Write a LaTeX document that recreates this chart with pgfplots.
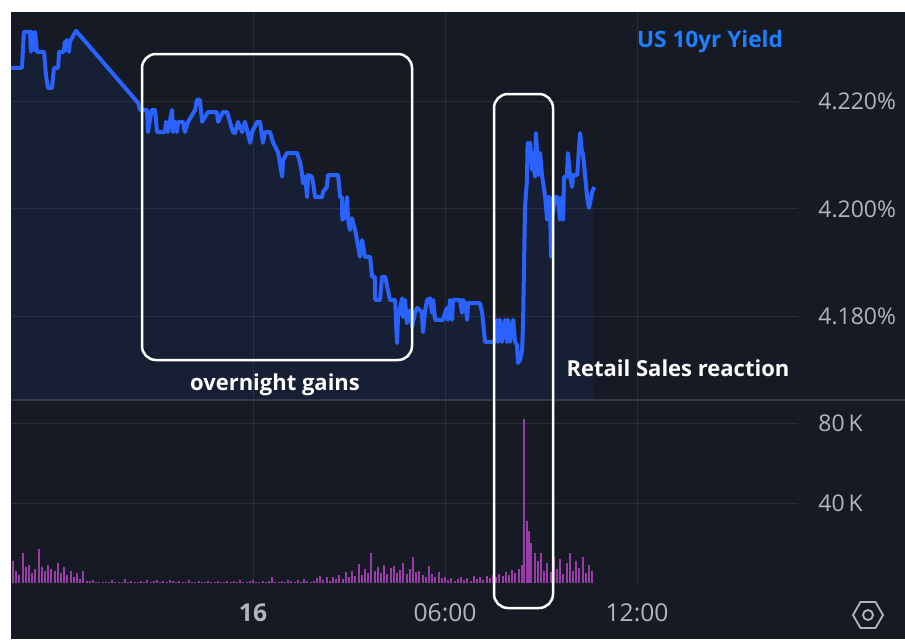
\documentclass[border=0pt]{standalone}
\usepackage{pgfplots}
\pgfplotsset{compat=1.18}
\usepackage{pgfplotstable}
\usepackage{fontspec}
\setmainfont{Open Sans}
\usetikzlibrary{shapes.geometric}
\definecolor{bg}{RGB}{22,26,37}
\definecolor{linecol}{RGB}{41,98,255}
\definecolor{gridcol}{RGB}{40,44,56}
\definecolor{sepcol}{RGB}{54,58,69}
\definecolor{labcol}{RGB}{178,181,190}
\definecolor{volcol}{RGB}{150,62,165}
\definecolor{titlecol}{RGB}{30,128,255}

\pgfplotstableread{
h y
-7.56 4.2262
-7.22 4.2262
-7.16 4.2329
-6.97 4.2329
-6.94 4.2292
-6.91 4.2329
-6.84 4.2296
-6.81 4.2329
-6.75 4.2292
-6.53 4.2292
-6.47 4.2249
-6.41 4.2225
-6.28 4.2225
-6.22 4.2262
-6.09 4.2262
-6.06 4.2292
-5.91 4.2292
-5.88 4.2311
-5.84 4.2296
-5.81 4.2314
-5.75 4.2292
-5.72 4.2311
-5.53 4.2331
-3.59 4.2197
-3.53 4.2184
-3.31 4.2184
-3.28 4.2143
-3.22 4.2166
-3.16 4.2184
-3.06 4.2184
-3.00 4.2143
-2.75 4.2143
-2.72 4.2162
-2.66 4.2143
-2.53 4.2184
-2.50 4.2143
-2.44 4.2162
-2.38 4.2143
-2.34 4.2162
-2.19 4.2162
-2.13 4.2143
-2.03 4.2162
-1.81 4.2184
-1.75 4.2203
-1.66 4.2203
-1.59 4.2162
-1.50 4.2171
-1.41 4.2180
-1.13 4.2180
-1.09 4.2162
-0.94 4.2180
-0.81 4.2180
-0.72 4.2162
-0.63 4.2143
-0.56 4.2141
-0.47 4.2162
-0.34 4.2143
-0.25 4.2162
-0.09 4.2123
-0.03 4.2143
0.13 4.2162
0.22 4.2162
0.31 4.2123
0.38 4.2143
0.53 4.2143
0.63 4.2123
0.78 4.2106
0.91 4.2060
0.94 4.2091
1.06 4.2104
1.38 4.2104
1.47 4.2086
1.53 4.2067
1.56 4.2048
1.63 4.2060
1.69 4.2022
1.72 4.2063
1.84 4.2060
1.88 4.2048
1.94 4.2022
2.16 4.2022
2.19 4.2032
2.31 4.2041
2.34 4.2063
2.66 4.2063
2.72 4.2022
2.78 4.2022
2.79 4.1980
2.88 4.1985
2.94 4.2022
2.97 4.1980
3.03 4.1961
3.09 4.1983
3.19 4.1961
3.25 4.1942
3.34 4.1911
3.41 4.1942
3.50 4.1911
3.66 4.1911
3.72 4.1874
3.81 4.1874
3.82 4.1831
3.97 4.1831
4.03 4.1874
4.13 4.1874
4.28 4.1831
4.44 4.1831
4.50 4.1751
4.53 4.1799
4.66 4.1834
4.69 4.1799
4.75 4.1831
4.81 4.1788
4.84 4.1799
4.91 4.1812
4.97 4.1781
5.06 4.1807
5.13 4.1816
5.22 4.1812
5.28 4.1807
5.31 4.1771
5.38 4.1812
5.44 4.1831
5.53 4.1834
5.59 4.1807
5.63 4.1831
5.69 4.1794
5.94 4.1794
6.00 4.1807
6.06 4.1816
6.09 4.1794
6.16 4.1831
6.22 4.1794
6.25 4.1831
6.47 4.1831
6.53 4.1807
6.56 4.1831
6.63 4.1825
6.69 4.1794
6.72 4.1825
7.09 4.1825
7.16 4.1807
7.25 4.1753
7.56 4.1753
7.63 4.1794
7.66 4.1753
7.72 4.1794
7.78 4.1753
7.88 4.1794
7.94 4.1753
7.97 4.1794
8.03 4.1753
8.13 4.1794
8.19 4.1753
8.25 4.1747
8.28 4.1714
8.34 4.1719
8.41 4.1738
8.44 4.1794
8.50 4.2004
8.56 4.2054
8.58 4.2123
8.59 4.2110
8.66 4.2123
8.72 4.2073
8.75 4.2104
8.81 4.2060
8.84 4.2141
8.88 4.2104
8.91 4.2063
8.97 4.2104
9.03 4.2063
9.13 4.2022
9.19 4.1980
9.22 4.2022
9.28 4.2022
9.31 4.1911
9.34 4.1980
9.44 4.2022
9.53 4.2022
9.59 4.1980
9.66 4.2022
9.69 4.1980
9.72 4.2060
9.81 4.2060
9.84 4.2104
9.91 4.2060
9.97 4.2041
10.00 4.2063
10.13 4.2063
10.22 4.2141
10.28 4.2104
10.31 4.2104
10.38 4.2060
10.44 4.2022
10.50 4.2002
10.59 4.2030
10.66 4.2041
}\yielddata

\pgfplotstableread{
h v
-7.5 11
-7.4 6
-7.3 4
-7.2 15
-7.1 8
-7.0 9
-6.9 5
-6.8 7
-6.7 17
-6.6 8
-6.5 6
-6.4 9
-6.3 7
-6.2 6
-6.1 10
-6.0 5
-5.9 8
-5.8 4
-5.7 6
-5.6 3
-5.5 5
-5.4 2
-5.3 6
-5.2 1
-5.1 1
-5.0 1.5
-4.9 0.5
-4.8 0.3
-4.7 0.6
-4.6 0.4
-4.5 0.3
-4.4 1.5
-4.3 0.5
-4.2 0.4
-4.1 0.3
-4.0 1.8
-3.9 0.6
-3.8 1.2
-3.7 0.5
-3.6 0.3
-3.5 1.0
-3.4 0.6
-3.3 1.6
-3.2 0.5
-3.1 0.8
-3.0 1.4
-2.9 0.6
-2.8 1.0
-2.7 0.4
-2.6 1.7
-2.5 0.8
-2.4 0.5
-2.3 1.1
-2.2 0.4
-2.1 0.7
-2.0 1.3
-1.9 0.5
-1.8 0.3
-1.7 0.8
-1.6 0.5
-1.5 0.4
-1.4 1.0
-1.3 0.6
-1.2 0.3
-1.1 0.9
-1.0 0.4
-0.9 0.7
-0.8 1.2
-0.7 0.5
-0.6 0.8
-0.5 0.4
-0.4 1.4
-0.3 0.6
-0.2 0.5
-0.1 0.9
0.0 1.6
0.1 0.7
0.2 0.4
0.3 1.1
0.4 0.5
0.5 0.9
0.6 3.0
0.7 0.5
0.8 0.7
0.9 1.2
1.0 0.4
1.1 1.5
1.2 0.8
1.3 0.6
1.4 1.3
1.5 0.5
1.6 1.8
1.7 0.9
1.8 0.6
1.9 1.0
2.0 2.5
2.1 3.5
2.2 1.5
2.3 2.8
2.4 1.2
2.5 3.0
2.6 1.8
2.7 4.0
2.8 2.2
2.9 5.5
3.0 3.0
3.1 6.0
3.2 3.5
3.3 9.5
3.4 4.0
3.5 7.0
3.6 5.0
3.7 15
3.8 6.0
3.9 8.0
4.0 5.0
4.1 9.0
4.2 4.5
4.3 7.5
4.4 8.5
4.5 5.0
4.6 6.5
4.7 10
4.8 4.5
4.9 7.0
5.0 13
5.1 5.5
5.2 6.0
5.3 4.0
5.4 3.0
5.5 8.5
5.6 4.5
5.7 3.0
5.8 5.5
5.9 2.5
6.0 3.0
6.1 1.5
6.2 2.5
6.3 1.0
6.4 2.0
6.5 3.0
6.6 1.5
6.7 2.5
6.8 1.2
6.9 3.5
7.0 2.0
7.1 2.8
7.2 1.5
7.3 3.5
7.4 2.5
7.5 4.0
7.6 3.0
7.7 4.5
7.8 3.5
7.9 5.5
8.0 4.0
8.1 6.5
8.2 5.0
8.3 7.0
8.4 9.0
8.47 82
8.55 31
8.62 26
8.7 20
8.8 15
8.9 11
9.0 15
9.1 6
9.2 10
9.3 5.5
9.4 13
9.5 7
9.6 12
9.7 4.5
9.8 10
9.9 15
10.0 6
10.1 11
10.2 7.5
10.3 13
10.4 5
10.5 9
10.6 6
}\voldata

\begin{document}
\begin{tikzpicture}
\useasboundingbox (0,0) rectangle (452.5pt,-319.5pt);
\fill[white] (0,0) rectangle (452.5pt,-319.5pt);
\fill[bg] (5.5pt,-6pt) rectangle (452.5pt,-319.5pt);

\begin{axis}[
  at={(5.5pt,-200pt)}, anchor=south west,
  scale only axis, width=393.5pt, height=194pt,
  xmin=-7.5625, xmax=17.03, ymin=4.1645, ymax=4.2366,
  axis line style={draw=none}, tick style={draw=none},
  xtick={0,6,12}, xticklabels={},
  ytick={4.18,4.20,4.22}, yticklabels={4.180\%,4.200\%,4.220\%},
  yticklabel pos=right,
  yticklabel style={anchor=west, inner sep=0pt, xshift=10pt, font=\fontsize{11.5}{12}\selectfont, text=labcol},
  grid=major, grid style={gridcol, line width=0.5pt},
]
\addplot[fill=linecol, fill opacity=0.07, draw=none] table[x=h,y=y]{\yielddata}
  -- (axis cs:10.66,4.1645) -- (axis cs:-7.56,4.1645) -- cycle;
\addplot[linecol, line width=2pt, line join=round] table[x=h,y=y]{\yielddata};
\end{axis}

\begin{axis}[
  at={(5.5pt,-291.5pt)}, anchor=south west,
  scale only axis, width=393.5pt, height=91.5pt,
  xmin=-7.5625, xmax=17.03, ymin=0, ymax=91.5,
  axis line style={draw=none}, tick style={draw=none},
  xtick={0,6,12}, xticklabels={\textbf{16},06:00,12:00},
  xticklabel style={anchor=center, yshift=-15pt, font=\fontsize{12.3}{13}\selectfont, text=labcol},
  ytick={40,80}, yticklabels={40\,K,80\,K},
  yticklabel pos=right,
  yticklabel style={anchor=west, inner sep=0pt, xshift=10pt, font=\fontsize{11.5}{12}\selectfont, text=labcol},
  grid=major, grid style={gridcol, line width=0.5pt},
]
\addplot[ycomb, volcol, line width=1pt] table[x=h,y=v]{\voldata};
\end{axis}

\draw[sepcol, line width=1pt] (5.5pt,-200pt) -- (452.5pt,-200pt);

\begin{scope}[x=0.5pt,y=-0.5pt]
\draw[white, line width=1.25pt, rounded corners=7pt] (142,54) rectangle (412,360);
\draw[white, line width=1.25pt, rounded corners=7pt] (494,94) rectangle (553,608);
\node[text=white, font=\bfseries\fontsize{11}{13}\selectfont] at (275,385) {overnight gains};
\node[text=white, font=\bfseries\fontsize{11}{13}\selectfont] at (678,368) {Retail Sales reaction};
\node[text=titlecol, font=\bfseries\fontsize{11.3}{13}\selectfont] at (710,42) {US 10yr Yield};
\node[regular polygon, regular polygon sides=6, draw=labcol, line width=0.9pt, minimum size=15pt, inner sep=0pt] at (868,615) {};
\draw[labcol, line width=0.9pt] (868,615) circle (2.5pt);
\end{scope}
\end{tikzpicture}
\end{document}
